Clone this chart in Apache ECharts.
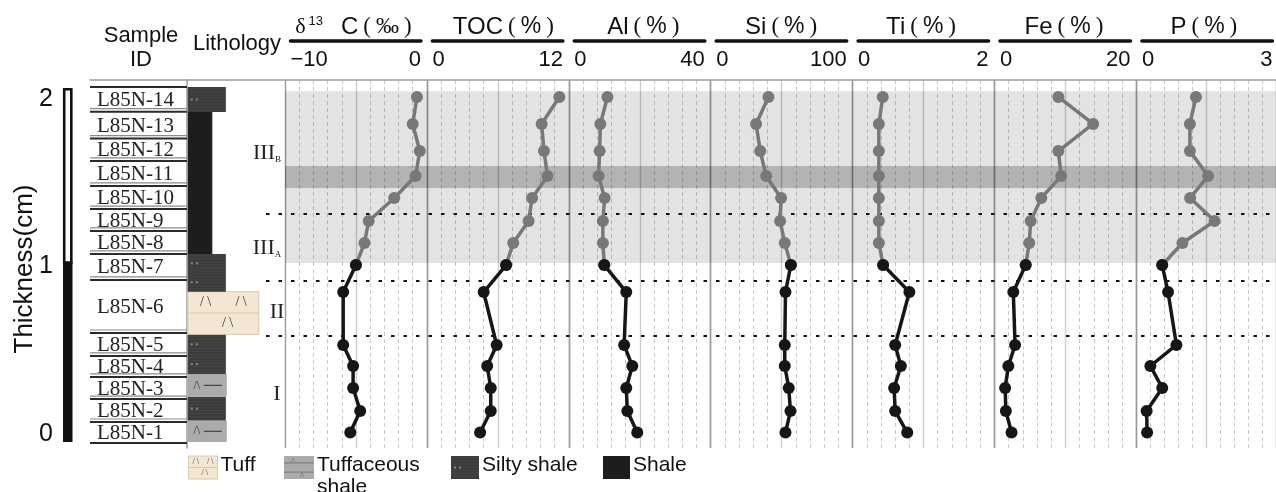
<!DOCTYPE html>
<html><head><meta charset="utf-8">
<script src="https://cdn.jsdelivr.net/npm/echarts@6/dist/echarts.min.js"></script>
<style>html,body{margin:0;padding:0;background:#fff}#c{width:1276px;height:492px}</style>
</head><body><div id="c"></div>
<script>
// ================= DATA =================
const sampleIds = ['L85N-1','L85N-2','L85N-3','L85N-4','L85N-5','L85N-6','L85N-7','L85N-8','L85N-9','L85N-10','L85N-11','L85N-12','L85N-13','L85N-14'];
// sample position (thickness, cm), sample 1 -> 14
const sampleDepth = [0.00, 0.126, 0.261, 0.389, 0.512, 0.821, 0.979, 1.108, 1.236, 1.371, 1.499, 1.645, 1.803, 1.961];
const d13C = [-5.4, -4.7, -5.2, -5.2, -5.9, -5.9, -5.0, -4.4, -4.1, -2.3, -0.8, -0.5, -1.0, -0.7];
const toc  = [4.5, 5.4, 5.4, 5.1, 5.9, 4.8, 6.7, 7.3, 8.6, 8.9, 10.2, 9.9, 9.7, 11.2];
const al   = [19.3, 16.5, 16.2, 17.9, 15.6, 16.2, 10.0, 9.6, 9.6, 10.1, 8.4, 8.7, 8.9, 10.9];
const si   = [52.7, 56.2, 55.0, 52.2, 52.2, 52.7, 56.5, 52.2, 48.9, 49.6, 39.1, 34.9, 32.0, 40.7];
const ti   = [0.77, 0.60, 0.585, 0.68, 0.60, 0.80, 0.43, 0.37, 0.37, 0.37, 0.37, 0.37, 0.37, 0.425];
const fe   = [2.4, 1.6, 1.5, 1.95, 2.9, 2.65, 4.4, 4.9, 5.1, 6.6, 9.4, 9.0, 13.9, 9.0];
const p    = [0.23, 0.22, 0.555, 0.30, 0.86, 0.68, 0.555, 0.99, 1.68, 1.155, 1.54, 1.15, 1.15, 1.28];
// axis tick labels (min, max) of each panel
const panelTitles = ['δ13C(‰)', 'TOC(%)', 'Al(%)', 'Si(%)', 'Ti(%)', 'Fe(%)', 'P(%)'];
const panelTicks = [[-10, 0], [0, 12], [0, 40], [0, 100], [0, 2], [0, 20], [0, 3]];
const panelValues = [d13C, toc, al, si, ti, fe, p];
// sample-box boundaries (thickness), bottom -> top
const sampleBounds = [-0.061, 0.062, 0.196, 0.325, 0.448, 0.582, 0.892, 1.044, 1.178, 1.306, 1.441, 1.587, 1.718, 1.875, 2.019];
// lithology layers: [bottom, top, type]
const lithoBottom = [-0.055, 0.070, 0.210, 0.342, 0.574, 0.823, 1.044, 1.873];
const lithoTop    = [0.070, 0.210, 0.342, 0.574, 0.823, 1.044, 1.873, 2.019];
const lithoType   = ['Tuffaceous shale', 'Silty shale', 'Tuffaceous shale', 'Silty shale', 'Tuff', 'Silty shale', 'Shale', 'Silty shale'];
const legendTypes = ['Tuff', 'Tuffaceous shale', 'Silty shale', 'Shale'];
const legendLabels = ['Tuff', 'Tuffaceous\nshale', 'Silty shale', 'Shale'];
// zones
const zoneNames = ['I', 'II', 'III', 'III'];
const zoneSubs  = ['', '', 'A', 'B'];
const zoneMid   = [0.226, 0.705, 1.078, 1.634];
const zoneBounds = [0.566, 0.886, 1.277];
const bandIII = [0.991, 1.994];
const bandHighlight = [1.429, 1.557];
// thickness scale bar: [bottom, top]
const scaleBlack = [-0.055, 1.0];
const scaleWhite = [1.0, 2.013];
const thicknessTicks = [0, 2, 1]; // min, max, interval

// ================= LAYOUT / STYLE =================
const PLOT_TOP = 80, PLOT_H = 368;
const Y_MIN = -0.09, Y_MAX = 2.06;
const P0 = 285, PW = 141.9;
const SANS = '"Liberation Sans", Arial, sans-serif';
const SERIF = '"Liberation Serif", "Times New Roman", serif';
const litWidth = {'Silty shale': 38, 'Shale': 24.5, 'Tuff': 71, 'Tuffaceous shale': 39};

function lithoShapes(type, x, y, w, h, small) {
  const c = [];
  if (type === 'Shale') {
    c.push({type: 'rect', shape: {x, y, width: w, height: h}, style: {fill: '#1d1d1d'}});
    if (!small) c.push({type: 'line', shape: {x1: x + w, y1: y, x2: x + w, y2: y + h}, style: {stroke: '#9a9a9a', lineWidth: 1, lineDash: [1, 2]}});
  } else if (type === 'Silty shale') {
    c.push({type: 'rect', shape: {x, y, width: w, height: h}, style: {fill: '#3b3b3b'}});
    for (let yy = y + 2; yy < y + h - 1; yy += 3) {
      c.push({type: 'line', shape: {x1: x, y1: yy, x2: x + w, y2: yy}, style: {stroke: '#474747', lineWidth: 1}});
    }
    const n = Math.max(1, Math.round(h / 20));
    for (let i = 0; i < n; i++) {
      const yy = y + (i + 0.5) * h / n;
      c.push({type: 'rect', shape: {x: x + 3, y: yy - 1, width: 2, height: 2}, style: {fill: '#8a8a8a'}});
      c.push({type: 'rect', shape: {x: x + 8, y: yy - 1, width: 2, height: 2}, style: {fill: '#8a8a8a'}});
    }
  } else if (type === 'Tuff') {
    c.push({type: 'rect', shape: {x, y, width: w, height: h}, style: {fill: '#f3e7d3', stroke: '#d8c9ab', lineWidth: 1}});
    c.push({type: 'line', shape: {x1: x, y1: y + h / 2, x2: x + w, y2: y + h / 2}, style: {stroke: '#d8c9ab', lineWidth: 1}});
    const fs = small ? 8 : 14;
    const g = [[0.25, 0.25], [0.75, 0.25], [0.56, 0.75]];
    g.forEach(([fx, fy]) => c.push({type: 'text', style: {text: '/ \\', x: x + fx * w, y: y + fy * h, align: 'center', verticalAlign: 'middle', font: fs + 'px ' + SERIF, fill: '#333'}}));
  } else {
    c.push({type: 'rect', shape: {x, y, width: w, height: h}, style: {fill: '#ababab'}});
    if (small) {
      c.push({type: 'line', shape: {x1: x, y1: y + h * 0.3, x2: x + w, y2: y + h * 0.3}, style: {stroke: '#777', lineWidth: 1}});
      c.push({type: 'line', shape: {x1: x, y1: y + h * 0.7, x2: x + w, y2: y + h * 0.7}, style: {stroke: '#777', lineWidth: 1}});
      c.push({type: 'text', style: {text: '/\\', x: x + 0.3 * w, y: y + h * 0.18, align: 'center', verticalAlign: 'middle', font: '7px ' + SERIF, fill: '#555'}});
      c.push({type: 'text', style: {text: '/\\', x: x + 0.6 * w, y: y + h * 0.82, align: 'center', verticalAlign: 'middle', font: '7px ' + SERIF, fill: '#555'}});
    } else {
      c.push({type: 'text', style: {text: '/\\', x: x + 9, y: y + h / 2, align: 'center', verticalAlign: 'middle', font: '12px ' + SERIF, fill: '#333'}});
      c.push({type: 'line', shape: {x1: x + 16, y1: y + h / 2, x2: x + 34, y2: y + h / 2}, style: {stroke: '#444', lineWidth: 1.2}});
    }
  }
  return c;
}

// ================= GRIDS & AXES =================
const grids = [], xAxes = [], yAxes = [], series = [];
function hiddenAxis(extra) { return Object.assign({type: 'value', show: false}, extra); }
function addGrid(g, xa, ya) {
  const i = grids.length;
  grids.push(g);
  xAxes.push(Object.assign({gridIndex: i}, xa));
  yAxes.push(Object.assign({gridIndex: i}, ya));
  return i;
}
const yMain = {type: 'value', min: Y_MIN, max: Y_MAX, show: false};

// 0: background spanning everything right of x=90
const gBg = addGrid({left: 90, top: PLOT_TOP, width: 1276 - 90, height: PLOT_H},
  {type: 'value', min: 0, max: 1, position: 'top', show: true, axisLine: {show: true, onZero: false, lineStyle: {color: '#9c9c9c', width: 1.5}}, axisTick: {show: false}, axisLabel: {show: false}, splitLine: {show: false}},
  yMain);
// 1: scale bar
const gScale = addGrid({left: 63, top: PLOT_TOP, width: 9.5, height: PLOT_H}, hiddenAxis({min: 0, max: 1}), yMain);
// 2: thickness labels
const gThick = addGrid({left: 63, top: 99, width: 9.5, height: 335}, hiddenAxis({min: 0, max: 1}),
  {type: 'value', min: thicknessTicks[0], max: thicknessTicks[1], interval: thicknessTicks[2], show: true,
   axisLine: {show: false}, axisTick: {show: false}, splitLine: {show: false},
   axisLabel: {show: true, fontSize: 25, color: '#111', fontFamily: SANS, margin: 10},
   name: 'Thickness(cm)', nameLocation: 'middle', nameRotate: 90, nameGap: 25, nameMoveOverlap: false,
   nameTextStyle: {fontSize: 26, color: '#111', fontFamily: SANS, padding: [0, 5, 0, 0]}});
// 3: sample column
const gSample = addGrid({left: 90, top: PLOT_TOP, width: 97, height: PLOT_H}, hiddenAxis({min: 0, max: 1}), yMain);
// 4: lithology column
const gLitho = addGrid({left: 187, top: PLOT_TOP, width: 98, height: PLOT_H}, hiddenAxis({min: 0, max: 1}),
  {type: 'value', min: Y_MIN, max: Y_MAX, show: true, axisLine: {show: true, onZero: false, lineStyle: {color: '#9c9c9c', width: 1.5}},
   axisTick: {show: false}, axisLabel: {show: false}, splitLine: {show: false}});

// panels
const panelGrid = [];
panelTicks.forEach((tk, i) => {
  const [mn, mx] = tk;
  panelGrid.push(addGrid({left: P0 + i * PW, top: PLOT_TOP, width: PW, height: PLOT_H},
    {type: 'value', min: mn, max: mx, interval: (mx - mn) / 2, show: true,
     axisLine: {show: false}, axisTick: {show: false}, axisLabel: {show: false},
     splitLine: {show: true, lineStyle: {color: ['#9a9a9a', '#cdcdcd', '#9a9a9a'], width: 1.4}},
     minorTick: {show: true, splitNumber: 5, length: 0, lineStyle: {width: 0}},
     minorSplitLine: {show: true, lineStyle: {color: '#c9c9c9', width: 1, type: [4, 3]}}},
    yMain));
});
// header axes
const fmt = v => (v < 0 ? '\u2212' + Math.abs(v) : String(v));
panelTicks.forEach((tk, i) => {
  const [mn, mx] = tk;
  addGrid({left: P0 + i * PW + 5.5, top: 20, width: 130.5, height: 21},
    {type: 'value', min: mn, max: mx, interval: mx - mn, position: 'bottom', show: true,
     axisLine: {show: true, onZero: false, lineStyle: {color: '#111', width: 3.5}},
     axisTick: {show: false}, splitLine: {show: false},
     axisLabel: {show: true, fontSize: 22, color: '#111', fontFamily: SANS, margin: 8,
       showMinLabel: true, showMaxLabel: true, alignMinLabel: 'left', alignMaxLabel: 'right', formatter: fmt}},
    {type: 'value', show: false, min: 0, max: 1});
});

// ================= SERIES =================
// background bands + dotted zone boundaries
series.push({
  type: 'custom', xAxisIndex: gBg, yAxisIndex: gBg, z: 1, silent: true, animation: false, clip: false,
  data: [[0, bandIII[0], bandIII[1]], [0, bandHighlight[0], bandHighlight[1]]],
  encode: {x: 0, y: [1, 2]},
  renderItem(params, api) {
    const cs = params.coordSys;
    const y1 = api.coord([0, api.value(2)])[1], y0 = api.coord([0, api.value(1)])[1];
    const x = cs.x + (P0 - 90);
    return {type: 'rect', shape: {x, y: y1, width: cs.x + cs.width - x, height: y0 - y1},
      style: {fill: params.dataIndex === 0 ? 'rgba(0,0,0,0.11)' : 'rgba(0,0,0,0.21)'}};
  }
});
series.push({
  type: 'custom', xAxisIndex: gBg, yAxisIndex: gBg, z: 4, silent: true, animation: false, clip: false,
  data: zoneBounds.map(v => [0, v]), encode: {x: 0, y: 1},
  renderItem(params, api) {
    const cs = params.coordSys;
    const y = Math.round(api.coord([0, api.value(1)])[1]);
    return {type: 'line', shape: {x1: cs.x + 176, y1: y, x2: cs.x + cs.width, y2: y},
      style: {stroke: '#111', lineWidth: 1.8, lineDash: [3.5, 9]}};
  }
});
// scale bar
series.push({
  type: 'custom', xAxisIndex: gScale, yAxisIndex: gScale, z: 3, silent: true, animation: false, clip: false,
  data: [[0, scaleBlack[0], scaleBlack[1]], [0, scaleWhite[0], scaleWhite[1]]], encode: {x: 0, y: [1, 2]},
  renderItem(params, api) {
    const cs = params.coordSys;
    const y1 = api.coord([0, api.value(2)])[1], y0 = api.coord([0, api.value(1)])[1];
    if (params.dataIndex === 0) return {type: 'rect', shape: {x: cs.x, y: y1, width: cs.width, height: y0 - y1}, style: {fill: '#111'}};
    return {type: 'rect', shape: {x: cs.x + 1.2, y: y1 + 1.2, width: cs.width - 2.4, height: y0 - y1}, style: {fill: '#fff', stroke: '#111', lineWidth: 2.6}};
  }
});
// sample ID boxes
series.push({
  type: 'custom', xAxisIndex: gSample, yAxisIndex: gSample, z: 3, silent: true, animation: false, clip: false,
  data: sampleIds.map((s, i) => [0, sampleBounds[i], sampleBounds[i + 1]]), encode: {x: 0, y: [1, 2]},
  renderItem(params, api) {
    const cs = params.coordSys, i = params.dataIndex;
    const yb = api.coord([0, api.value(1)])[1], yt = api.coord([0, api.value(2)])[1];
    const x0 = cs.x, x1 = cs.x + cs.width;
    const ch = [
      {type: 'line', shape: {x1: x0, y1: yt, x2: x1, y2: yt}, style: {stroke: '#2a2a2a', lineWidth: 2}},
      {type: 'text', style: {text: sampleIds[i], x: x0 + 7, y: (yt + yb) / 2 + 1, align: 'left', verticalAlign: 'middle', font: '21px ' + SERIF, fill: '#222'}}
    ];
    if (i < sampleIds.length - 1) ch.push({type: 'line', shape: {x1: x0, y1: yt - 3, x2: x1, y2: yt - 3}, style: {stroke: '#8a8a8a', lineWidth: 1.2}});
    if (i === 0) ch.push({type: 'line', shape: {x1: x0, y1: yb, x2: x1, y2: yb}, style: {stroke: '#2a2a2a', lineWidth: 2}});
    return {type: 'group', children: ch};
  }
});
// lithology column
series.push({
  type: 'custom', xAxisIndex: gLitho, yAxisIndex: gLitho, z: 3, silent: true, animation: false, clip: false,
  data: lithoType.map((t, i) => [0, lithoBottom[i], lithoTop[i]]), encode: {x: 0, y: [1, 2]},
  renderItem(params, api) {
    const cs = params.coordSys, t = lithoType[params.dataIndex];
    const yb = api.coord([0, api.value(1)])[1], yt = api.coord([0, api.value(2)])[1];
    return {type: 'group', children: lithoShapes(t, cs.x + 0.8, yt, litWidth[t], yb - yt, false)};
  }
});
// zone labels
series.push({
  type: 'custom', xAxisIndex: gLitho, yAxisIndex: gLitho, z: 4, silent: true, animation: false, clip: false,
  data: zoneMid.map(v => [0, v]), encode: {x: 0, y: 1},
  renderItem(params, api) {
    const cs = params.coordSys, i = params.dataIndex;
    const y = api.coord([0, api.value(1)])[1];
    const sub = zoneSubs[i];
    return {type: 'text', style: {
      text: sub ? '{m|' + zoneNames[i] + '}{s|' + sub + '}' : '{m|' + zoneNames[i] + '}',
      x: sub ? cs.x + 80 : cs.x + 90, y, align: 'center', verticalAlign: 'middle',
      rich: {m: {font: '22px ' + SERIF, fill: '#222'}, s: {font: '9px ' + SERIF, fill: '#222', verticalAlign: 'bottom', padding: [10, 0, 0, 0]}}
    }};
  }
});
// geochemical profiles
panelValues.forEach((vals, k) => {
  const g = panelGrid[k];
  const pts = vals.map((v, i) => [v, sampleDepth[i]]);
  series.push({type: 'line', xAxisIndex: g, yAxisIndex: g, data: pts.slice(6), symbol: 'circle', symbolSize: 12,
    lineStyle: {color: '#787878', width: 3.5}, itemStyle: {color: '#787878'}, z: 5, silent: true, animation: false, clip: false});
  series.push({type: 'line', xAxisIndex: g, yAxisIndex: g, data: pts.slice(0, 7), symbol: 'circle', symbolSize: 12,
    lineStyle: {color: '#161616', width: 3.5}, itemStyle: {color: '#161616'}, z: 6, silent: true, animation: false, clip: false});
});

// ================= TEXT / LEGEND =================
const graphics = [];
graphics.push({type: 'text', x: 141, y: 36, style: {text: 'Sample', font: '22px ' + SANS, fill: '#111', align: 'center', verticalAlign: 'middle'}});
graphics.push({type: 'text', x: 141, y: 60, style: {text: 'ID', font: '22px ' + SANS, fill: '#111', align: 'center', verticalAlign: 'middle'}});
graphics.push({type: 'text', x: 237, y: 44, style: {text: 'Lithology', font: '22px ' + SANS, fill: '#111', align: 'center', verticalAlign: 'middle'}});
const titleShift = [0, 8, 6, 2, 0, 1, -1];
panelTitles.forEach((t, i) => {
  const cx = P0 + i * PW + PW / 2;
  let txt;
  if (i === 0) {
    txt = '{d|δ}{s|13}{g| }{c|C}{p|(}{r|‰}{p|)}';
  } else {
    const nm = t.replace('(%)', '');
    txt = '{c|' + nm + '}{p|(}{q|%}{p|)}';
  }
  graphics.push({type: 'text', x: cx + titleShift[i], y: 27, style: {text: txt, align: 'center', verticalAlign: 'middle',
    rich: {
      d: {font: '22px ' + SERIF, fill: '#111'},
      s: {font: '13px ' + SANS, fill: '#111', verticalAlign: 'top', padding: [0, 0, 12, 3]},
      g: {font: '22px ' + SANS, width: 18},
      c: {font: '24px ' + SANS, fill: '#111'},
      p: {font: '23px ' + SERIF, fill: '#111', padding: [0, 5, 0, 5]},
      q: {font: '23px ' + SANS, fill: '#111'},
      r: {font: '23px ' + SERIF, fill: '#111'}
    }}});
});
// legend
const legX = [188.5, 284, 451, 603];
const legW = [29, 30, 28, 27];
legendTypes.forEach((t, i) => {
  graphics.push({type: 'group', children: lithoShapes(t, legX[i], 456, legW[i], 23, true)});
  const multi = legendLabels[i].indexOf('\n') >= 0;
  graphics.push({type: 'text', x: legX[i] + legW[i] + 3, y: multi ? 454 : 465, style: {text: legendLabels[i], font: '21px ' + SANS, fill: '#111',
    align: 'left', verticalAlign: multi ? 'top' : 'middle', lineHeight: 22}});
});

const chart = echarts.init(document.getElementById('c'), null, {renderer: 'canvas'});
chart.setOption({
  backgroundColor: '#fff', animation: false,
  grid: grids, xAxis: xAxes, yAxis: yAxes, series, graphic: graphics
});
</script></body></html>
